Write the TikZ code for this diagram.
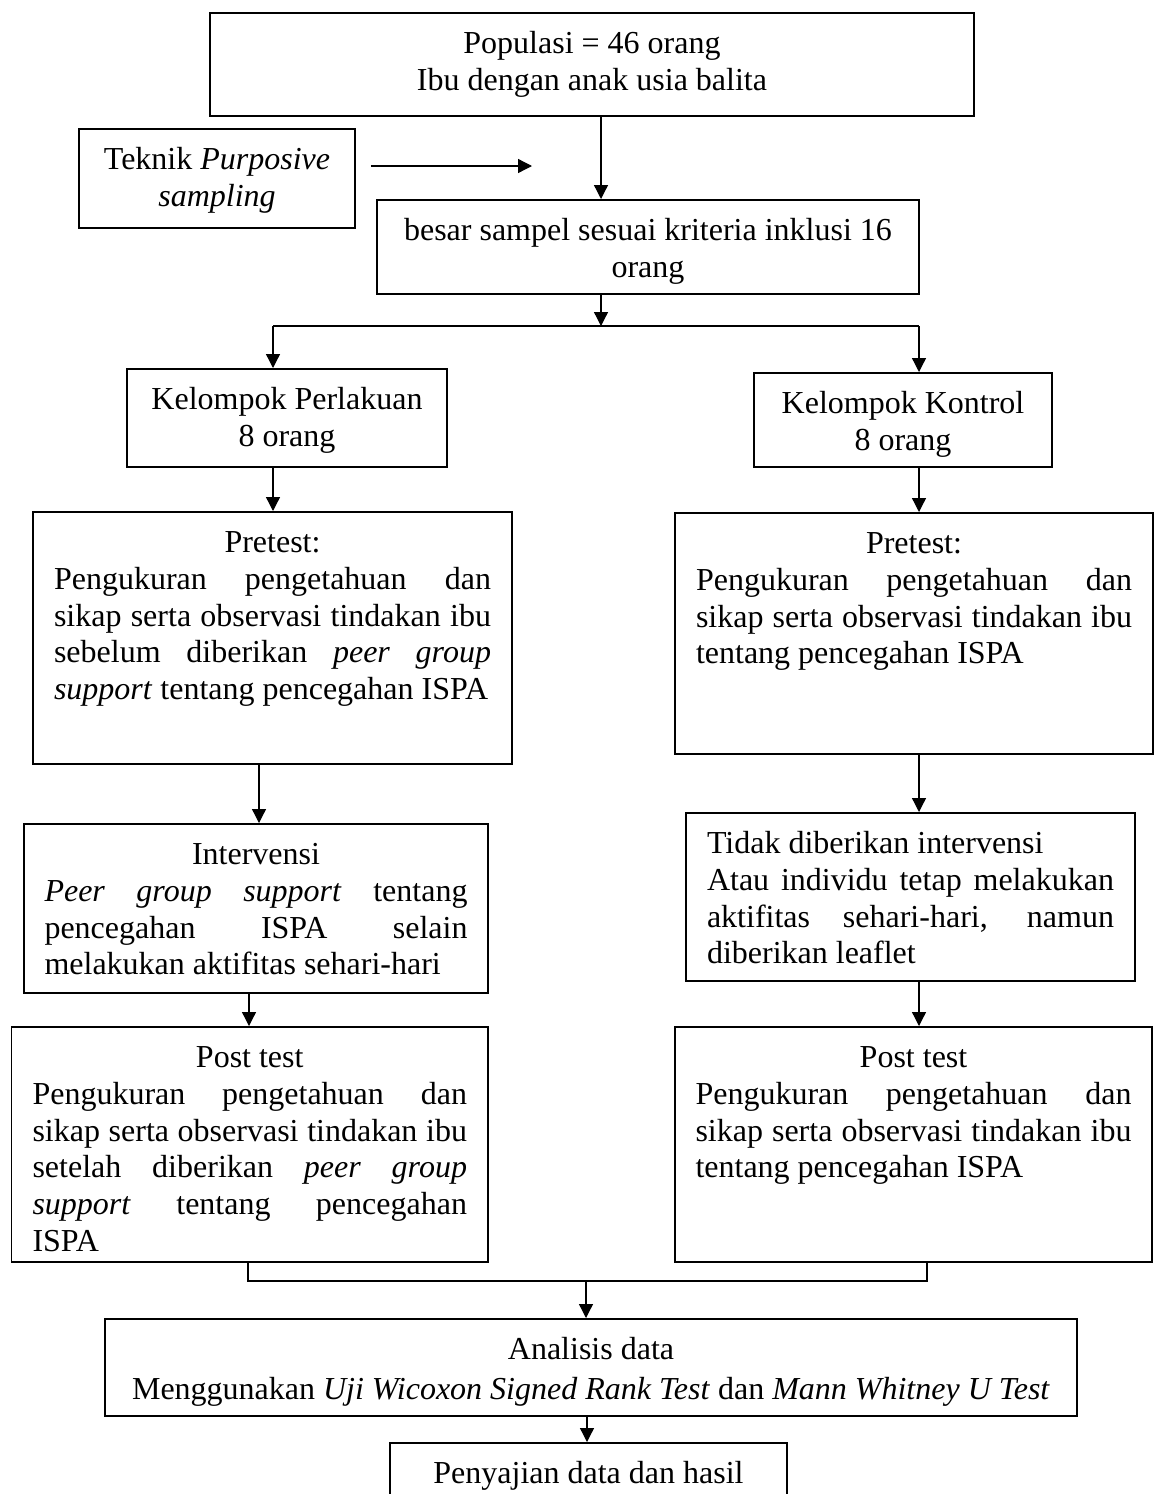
\documentclass[tikz,border=0pt]{standalone}
\usepackage{fontspec}
\setmainfont{Liberation Serif}
\usetikzlibrary{arrows.meta,calc}
\tolerance=10000
\hyphenpenalty=10000
\exhyphenpenalty=10000

\begin{document}
\begin{tikzpicture}[x=1pt,y=-1pt,
	kotak/.style={draw,line width=1.6pt,inner sep=0pt,anchor=north,text height=41pt,
		font=\fontsize{32}{36.7}\selectfont},
	tengah/.style={kotak,align=flush center},
	rata/.style={kotak,align=justify},
	panah/.style={line width=1.3pt,-{Triangle[length=14pt,width=14pt]}},
	garis/.style={line width=1.3pt}]
	\path[use as bounding box,fill=white] (0,0) rectangle (1154,1494);

	\node[tengah,minimum width=764pt,text width=740pt,text depth=62pt] (populasi) at (592,12)
		{Populasi = 46 orang\\Ibu dengan anak usia balita};
	\node[tengah,minimum width=276pt,text width=256pt,text depth=58pt] (teknik) at (217,128)
		{Teknik \textit{Purposive}\\\textit{sampling}};
	\node[tengah,minimum width=542pt,text width=522pt,text depth=53pt] (sampel) at (648,199)
		{besar sampel sesuai kriteria inklusi 16\\orang};
	\node[tengah,minimum width=320pt,text width=300pt,text depth=57pt] (perlakuan) at (287,368)
		{Kelompok Perlakuan\\8 orang};
	\node[tengah,minimum width=298pt,text width=278pt,text depth=53pt] (kontrol) at (903,372)
		{Kelompok Kontrol\\8 orang};

	\node[rata,minimum width=479pt,text width=437pt,text depth=211pt] (preA) at (272.5,511)
		{{\centering Pretest:\par}Pengukuran pengetahuan dan\linebreak
		sikap serta observasi tindakan ibu\linebreak
		sebelum diberikan \textit{peer group}\linebreak
		\textit{support} tentang pencegahan ISPA};
	\node[rata,minimum width=478pt,text width=436pt,text depth=200pt] (preB) at (914,512)
		{{\centering Pretest:\par}Pengukuran pengetahuan dan\linebreak
		sikap serta observasi tindakan ibu\linebreak
		tentang pencegahan ISPA};

	\node[rata,minimum width=464pt,text width=423pt,text depth=128pt] (interv) at (256,823)
		{{\centering Intervensi\par}\textit{Peer group support} tentang\linebreak
		pencegahan ISPA selain\linebreak
		melakukan aktifitas sehari-hari};
	\node[rata,minimum width=449pt,text width=407pt,text depth=127pt] (tidak) at (910.5,812)
		{Tidak diberikan intervensi\par
		Atau individu tetap melakukan\linebreak
		aktifitas sehari-hari, namun\linebreak
		diberikan leaflet};

	\node[rata,minimum width=476.5pt,text width=434.5pt,text depth=194pt] (postA) at (249.75,1026)
		{{\centering Post test\par}Pengukuran pengetahuan dan\linebreak
		sikap serta observasi tindakan ibu\linebreak
		setelah diberikan \textit{peer group}\linebreak
		\textit{support} tentang pencegahan\linebreak
		ISPA};
	\node[rata,minimum width=477pt,text width=436pt,text depth=194pt] (postB) at (913.5,1026)
		{{\centering Post test\par}Pengukuran pengetahuan dan\linebreak
		sikap serta observasi tindakan ibu\linebreak
		tentang pencegahan ISPA};

	\node[tengah,minimum width=972pt,text width=952pt,text depth=56pt] (analisis) at (591,1318)
		{Analisis data\\[3.3pt]Menggunakan \textit{Uji Wicoxon Signed Rank Test} dan \textit{Mann Whitney U Test}};
	\node[tengah,minimum width=397pt,text width=377pt,text depth=30pt] (sajian) at (588.5,1442)
		{Penyajian data dan hasil};

	\coordinate (ujung) at (532,166);
	\coordinate (kiri) at (273,326);
	\coordinate (kanan) at (919,326);
	\coordinate (gabung) at (586,1281);

	\draw[panah] ($(teknik.east |- ujung)+(15,0)$) -- (ujung);
	\draw[panah] (601,0 |- populasi.south) -- (601,0 |- sampel.north);
	\draw[panah] (601,0 |- sampel.south) -- (601,0 |- kiri);
	\draw[garis] (kiri) -- (kanan);
	\draw[panah] (kiri) -- (kiri |- perlakuan.north);
	\draw[panah] (kanan) -- (kanan |- kontrol.north);
	\draw[panah] (kiri |- perlakuan.south) -- (kiri |- preA.north);
	\draw[panah] (kanan |- kontrol.south) -- (kanan |- preB.north);
	\draw[panah] (259,0 |- preA.south) -- (259,0 |- interv.north);
	\draw[panah] (249,0 |- interv.south) -- (249,0 |- postA.north);
	\draw[panah] (kanan |- preB.south) -- (kanan |- tidak.north);
	\draw[panah] (kanan |- tidak.south) -- (kanan |- postB.north);
	\draw[garis] (248,0 |- postA.south) |- (927,0 |- gabung) -- (927,0 |- postB.south);
	\draw[panah] (gabung) -- (gabung |- analisis.north);
	\draw[panah] (587,0 |- analisis.south) -- (587,0 |- sajian.north);
\end{tikzpicture}
\end{document}
